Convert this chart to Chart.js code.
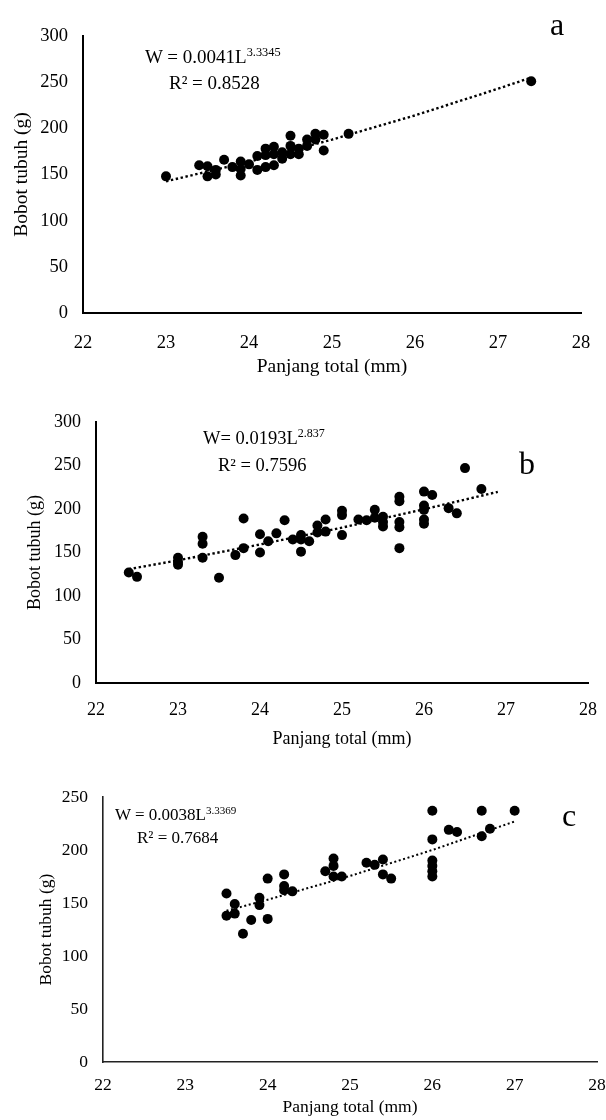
<!DOCTYPE html>
<html>
<head>
<meta charset="utf-8">
<script src="https://cdn.jsdelivr.net/npm/chart.js@4.4.1/dist/chart.umd.min.js"></script>
<style>
  html, body { margin: 0; padding: 0; background: #fff; }
  #wrap { position: relative; width: 606px; height: 1120px; overflow: hidden; font-family: "Liberation Serif", "Times New Roman", serif; color: #000; }
  .pane { position: absolute; left: 0; width: 606px; }
  .txt { position: absolute; white-space: nowrap; line-height: 1; font-family: "Liberation Serif", "Times New Roman", serif; color: #000; }
  .txt sup { font-size: 0.65em; vertical-align: 0.55em; line-height: 0; }
</style>
</head>
<body>
<div id="wrap">
  <div class="pane" style="top:0;height:380px"><canvas id="ca" width="606" height="380"></canvas></div>
  <div class="pane" style="top:380px;height:370px"><canvas id="cb" width="606" height="370"></canvas></div>
  <div class="pane" style="top:750px;height:370px"><canvas id="cc" width="606" height="370"></canvas></div>

  <div class="txt" style="left:145px;top:47px;font-size:19px">W = 0.0041L<sup>3.3345</sup></div>
  <div class="txt" style="left:169px;top:73px;font-size:19px">R² = 0.8528</div>
  <div class="txt" style="left:550px;top:8px;font-size:32px">a</div>

  <div class="txt" style="left:203px;top:429px;font-size:18.5px">W= 0.0193L<sup>2.837</sup></div>
  <div class="txt" style="left:218px;top:456px;font-size:18.5px">R² = 0.7596</div>
  <div class="txt" style="left:519px;top:447px;font-size:32px">b</div>

  <div class="txt" style="left:115px;top:806px;font-size:17px">W = 0.0038L<sup>3.3369</sup></div>
  <div class="txt" style="left:137px;top:829px;font-size:17px">R² = 0.7684</div>
  <div class="txt" style="left:562px;top:799px;font-size:32px">c</div>
</div>
<script>
// ---------- data ----------
const xTicksAll = [22, 23, 24, 25, 26, 27, 28];

// panel a
const aLength = [23.0, 23.4, 23.5, 23.5, 23.6, 23.6, 23.7, 23.8, 23.9, 23.9, 23.9, 24.0, 24.1, 24.1, 24.2, 24.2, 24.2, 24.3, 24.3, 24.3, 24.4, 24.4, 24.5, 24.5, 24.5, 24.6, 24.6, 24.7, 24.7, 24.8, 24.8, 24.9, 24.9, 25.2, 27.4];
const aWeight = [148, 160, 159, 148, 155, 150, 166, 158, 164, 156, 149, 161, 170, 155, 178, 171, 158, 180, 172, 160, 174, 167, 192, 181, 172, 178, 172, 188, 181, 194, 188, 193, 176, 194, 251];
const aTrendL = [23.0, 24.0, 25.0, 26.0, 27.0, 27.4];
const aTrendW = [142.6, 163.8, 187.8, 214.0, 242.9, 255.0];

// panel b
const bLength = [22.4, 22.5, 23.0, 23.0, 23.0, 23.3, 23.3, 23.3, 23.5, 23.7, 23.8, 23.8, 24.0, 24.0, 24.1, 24.2, 24.3, 24.4, 24.5, 24.5, 24.5, 24.6, 24.7, 24.7, 24.8, 24.8, 25.0, 25.0, 25.0, 25.2, 25.3, 25.4, 25.4, 25.5, 25.5, 25.5, 25.7, 25.7, 25.7, 25.7, 25.7, 26.0, 26.0, 26.0, 26.0, 26.0, 26.1, 26.3, 26.4, 26.5, 26.7];
const bWeight = [127, 122, 144, 139, 136, 168, 160, 144, 121, 147, 189, 155, 171, 150, 163, 172, 187, 165, 170, 165, 151, 163, 181, 173, 188, 174, 198, 193, 170, 188, 187, 199, 190, 191, 185, 180, 214, 209, 185, 179, 155, 220, 204, 199, 188, 183, 216, 201, 195, 247, 223];
const bTrendL = [22.4, 23.0, 24.0, 25.0, 26.0, 26.9];
const bTrendW = [130.9, 141.0, 159.2, 178.6, 199.7, 219.7];

// panel c
const cLength = [23.5, 23.5, 23.6, 23.6, 23.7, 23.8, 23.9, 23.9, 24.0, 24.0, 24.2, 24.2, 24.2, 24.3, 24.7, 24.8, 24.8, 24.8, 24.9, 25.2, 25.3, 25.4, 25.4, 25.5, 26.0, 26.0, 26.0, 26.0, 26.0, 26.0, 26.2, 26.3, 26.6, 26.6, 26.7, 27.0];
const cWeight = [159, 138, 149, 140, 121, 134, 155, 148, 173, 135, 177, 166, 162, 161, 180, 192, 185, 175, 175, 188, 186, 191, 177, 173, 237, 210, 190, 185, 180, 175, 219, 217, 237, 213, 220, 237];
const cTrendL = [23.5, 24.0, 25.0, 26.0, 27.0];
const cTrendW = [142.7, 153.1, 175.5, 200.0, 226.9];

const xAxisTitle = 'Panjang total (mm)';
const yAxisTitle = 'Bobot tubuh (g)';

// ---------- helpers ----------
const FONT = '"Liberation Serif", "Times New Roman", serif';
const pts = (xs, ys) => xs.map((x, i) => ({ x: x, y: ys[i] }));

function makeChart(id, cfg) {
  const ctx = document.getElementById(id);
  return new Chart(ctx, {
    type: 'scatter',
    data: {
      datasets: [
        {
          type: 'line',
          data: pts(cfg.tL, cfg.tW),
          borderColor: '#000',
          borderWidth: cfg.trendW,
          borderDash: [cfg.trendW, 2.6],
          pointRadius: 0,
          fill: false,
          tension: 0,
          order: 2
        },
        {
          data: pts(cfg.L, cfg.W),
          backgroundColor: '#000',
          borderColor: '#000',
          borderWidth: 0,
          pointRadius: 5,
          order: 1
        }
      ]
    },
    options: {
      responsive: false,
      devicePixelRatio: 1,
      animation: false,
      events: [],
      layout: { padding: { top: cfg.padTop, right: cfg.padRight, left: 0, bottom: 0 } },
      plugins: { legend: { display: false }, tooltip: { enabled: false } },
      scales: {
        x: {
          type: 'linear',
          min: 22, max: 28,
          afterBuildTicks: (s) => { s.ticks = xTicksAll.map(v => ({ value: v })); },
          afterFit: (s) => { s.height = cfg.xH; s.paddingRight = 0; s.paddingLeft = 0; },
          grid: { display: false, drawTicks: false },
          border: { display: true, color: cfg.axisColor, width: cfg.axisW },
          ticks: { color: '#000', padding: cfg.xTickPad, font: { family: FONT, size: cfg.tickSize }, maxRotation: 0 },
          title: { display: true, text: xAxisTitle, color: '#000', font: { family: FONT, size: cfg.titleSize }, padding: { top: 0, bottom: cfg.xTitlePad } }
        },
        y: {
          type: 'linear',
          min: 0, max: cfg.yMax,
          ticks: { stepSize: 50, color: '#000', padding: cfg.yTickPad, font: { family: FONT, size: cfg.tickSize } },
          afterFit: (s) => { s.width = cfg.yW; s.paddingTop = 0; s.paddingBottom = 0; },
          grid: { display: false, drawTicks: false },
          border: { display: true, color: cfg.axisColor, width: cfg.axisW },
          title: { display: true, text: yAxisTitle, color: '#000', font: { family: FONT, size: cfg.titleSize }, padding: { top: cfg.yTitlePad, bottom: 0 } }
        }
      }
    }
  });
}

makeChart('ca', { L: aLength, W: aWeight, tL: aTrendL, tW: aTrendW, yMax: 300,
  padTop: 36, padRight: 25, yW: 83, xH: 67, xTickPad: 19, xTitlePad: 1, yTickPad: 15, yTitlePad: 10,
  tickSize: 18.5, titleSize: 19.5, axisColor: '#000', axisW: 2, trendW: 2.4 });

makeChart('cb', { L: bLength, W: bWeight, tL: bTrendL, tW: bTrendW, yMax: 300,
  padTop: 42, padRight: 18, yW: 96, xH: 67, xTickPad: 16, xTitlePad: 0, yTickPad: 15, yTitlePad: 24,
  tickSize: 18, titleSize: 18, axisColor: '#000', axisW: 2, trendW: 2.4 });

makeChart('cc', { L: cLength, W: cWeight, tL: cTrendL, tW: cTrendW, yMax: 250,
  padTop: 47, padRight: 9, yW: 103, xH: 58, xTickPad: 13, xTitlePad: 2, yTickPad: 15, yTitlePad: 36,
  tickSize: 17.5, titleSize: 17.5, axisColor: '#222', axisW: 1.6, trendW: 2 });
</script>
</body>
</html>
